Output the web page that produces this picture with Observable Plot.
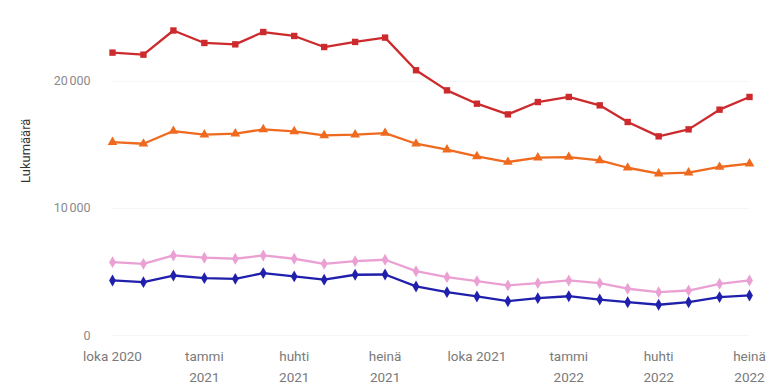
<!DOCTYPE html>
<html>
<head>
<meta charset="utf-8">
<script src="https://cdn.jsdelivr.net/npm/d3@7"></script>
<script src="https://cdn.jsdelivr.net/npm/@observablehq/plot@0.6"></script>
<style>
  html, body { margin: 0; padding: 0; background: #fff; }
  #chart { width: 776px; height: 388px; overflow: hidden; }
</style>
</head>
<body>
<div id="chart"></div>
<script>
const months = ["2020-10","2020-11","2020-12","2021-01","2021-02","2021-03","2021-04","2021-05","2021-06","2021-07","2021-08","2021-09","2021-10","2021-11","2021-12","2022-01","2022-02","2022-03","2022-04","2022-05","2022-06","2022-07"];
const seriesNames = ["A", "B", "C", "D"];
const redValues    = [22260,22100,24000,23020,22910,23880,23570,22700,23100,23440,20870,19290,18240,17400,18370,18770,18110,16800,15670,16220,17770,18770];
const orangeValues = [15220,15090,16090,15800,15880,16220,16060,15750,15800,15930,15090,14620,14090,13650,13990,14040,13780,13200,12730,12810,13260,13520];
const pinkValues   = [5770,5640,6300,6120,6040,6300,6040,5640,5850,5960,5060,4590,4280,3940,4120,4330,4120,3680,3410,3540,4070,4330];
const blueValues   = [4330,4200,4720,4510,4460,4910,4650,4390,4780,4800,3860,3410,3070,2700,2940,3090,2830,2620,2420,2620,3020,3150];
const tickMonths = ["2020-10","2021-01","2021-04","2021-07","2021-10","2022-01","2022-04","2022-07"];
const tickLabels = ["loka 2020","tammi\n2021","huhti\n2021","heinä\n2021","loka 2021","tammi\n2022","huhti\n2022","heinä\n2022"];
const yTicks = [0, 10000, 20000];

const colors = {A: "#cc2a2c", B: "#ef6a1e", C: "#eba0d4", D: "#2020ac"};
const symbols = {A: "square", B: "triangle", C: "diamond", D: "diamond"};

const parse = d3.utcParse("%Y-%m");
const allValues = [redValues, orangeValues, pinkValues, blueValues];
const data = [];
seriesNames.forEach((s, i) => {
  months.forEach((m, j) => data.push({series: s, date: parse(m), value: allValues[i][j]}));
});
const tickDates = tickMonths.map(parse);
const labelOf = new Map(tickDates.map((d, i) => [+d, tickLabels[i]]));

const chart = Plot.plot({
  width: 776,
  height: 388,
  marginLeft: 112,
  marginRight: 27,
  marginTop: 30,
  marginBottom: 53,
  style: {fontFamily: "Roboto, 'Liberation Sans', sans-serif", background: "#fff"},
  x: {type: "utc", domain: [parse(months[0]), parse(months[months.length - 1])]},
  y: {domain: [0, 24000]},
  marks: [
    Plot.gridY(yTicks, {stroke: "#000", strokeOpacity: 0.04}),
    Plot.axisY(yTicks, {
      tickSize: 0, tickPadding: 22, fontSize: 12.5, fill: "#8a8a8a",
      tickFormat: d => d3.format(",")(d).replace(/,/g, "\u202f"),
      label: null
    }),
    Plot.text(["Lukumäärä"], {
      frameAnchor: "left", dx: -87, rotate: -90, fontSize: 13, fill: "#333"
    }),
    Plot.axisX(tickDates, {
      tickSize: 0, tickPadding: 11, fontSize: 13.5, fill: "#7a7a7a", lineHeight: 1.55,
      tickFormat: d => labelOf.get(+d), label: null
    }),
    Plot.line(data, {x: "date", y: "value", z: "series", stroke: d => colors[d.series], strokeWidth: 2.3}),
    Plot.dot(data, {x: "date", y: "value", fill: d => colors[d.series], symbol: d => symbols[d.series], r: 3.6})
  ]
});
document.getElementById("chart").appendChild(chart);
</script>
</body>
</html>
